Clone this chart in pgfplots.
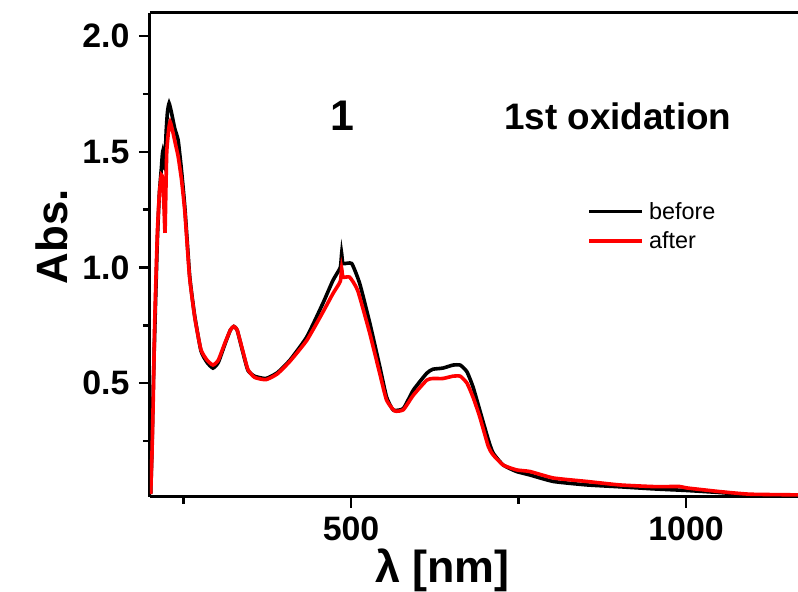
\documentclass[border=0pt]{standalone}
\usepackage{fontspec}
\setmainfont{Liberation Sans}
\usepackage{pgfplots}
\pgfplotsset{compat=1.18}
\usepackage{pgfplotstable}

\pgfplotstableread{
x y
201 0.02
203 0.22
205 0.50
208 0.82
211 1.12
214 1.32
217 1.43
219 1.50
222 1.43
224 1.58
226 1.67
228.5 1.71
232 1.67
237 1.60
242 1.55
247 1.42
252 1.26
259 0.97
263 0.87
267 0.785
276 0.64
285 0.59
294 0.565
302 0.59
312 0.67
320 0.73
325 0.745
330 0.73
338 0.64
346 0.556
356 0.53
373 0.52
390 0.545
409 0.60
434 0.70
458 0.845
473 0.944
484 1.00
486 1.06
488 1.017
501 1.017
513 0.93
528 0.76
543 0.57
553 0.44
563 0.384
578 0.39
593 0.47
613 0.543
622 0.56
637 0.565
652 0.578
663 0.578
673 0.549
682 0.484
692 0.384
705 0.254
712 0.198
727 0.146
747 0.118
767 0.103
802 0.075
852 0.060
901 0.052
951 0.043
1001 0.036
1051 0.027
1095 0.017
1167 0.017
}\before

\pgfplotstableread{
x y
201 0.02
203 0.20
205 0.45
207 0.76
211 1.15
214 1.32
217 1.40
219 1.38
221 1.25
222.4 1.15
223.5 1.30
225 1.50
228 1.60
230 1.63
233 1.60
239 1.52
242 1.48
247 1.38
252 1.24
259 0.96
267 0.78
276 0.645
285 0.60
294 0.578
302 0.60
312 0.675
320 0.73
325 0.745
330 0.73
338 0.645
346 0.56
356 0.525
373 0.515
390 0.54
409 0.595
434 0.685
458 0.807
473 0.887
484 0.94
486 0.995
488 0.958
498 0.958
510 0.90
528 0.715
543 0.54
553 0.427
565 0.38
578 0.385
593 0.448
613 0.513
622 0.52
637 0.52
652 0.53
663 0.53
673 0.50
682 0.44
692 0.355
705 0.225
712 0.19
727 0.146
747 0.125
767 0.118
802 0.090
852 0.075
901 0.060
951 0.053
991 0.053
1001 0.047
1051 0.031
1095 0.020
1167 0.017
}\after

\begin{document}
\begin{tikzpicture}
\useasboundingbox (-150bp,-95.5bp) rectangle (648bp,496.5bp);
\begin{axis}[
  at={(0,0)}, anchor=south west,
  scale only axis, width=648bp, height=483.5bp,
  xmin=200, xmax=1167, ymin=0.01, ymax=2.1,
  axis x line*=box, axis y line*=left,
  axis line style={line width=3bp, black},
  xtick={500,1000}, xticklabels={500,1000},
  minor xtick={250,750},
  ytick={0.5,1,1.5,2}, yticklabels={0.5,1.0,1.5,2.0},
  minor ytick={0.25,0.75,1.25,1.75},
  tick align=outside, tick pos=left,
  major tick length=11bp, minor tick length=7bp,
  every tick/.style={black, line width=2.6bp},
  tick label style={font=\fontsize{34}{34}\selectfont\bfseries},
  xticklabel style={yshift=-6bp},
  yticklabel style={xshift=-6bp},
  xlabel={\fontsize{45}{45}\selectfont\bfseries λ [nm]},
  ylabel={\fontsize{44}{44}\selectfont\bfseries Abs.},
  every axis x label/.style={at={(axis description cs:0.451,-0.152)}, anchor=center},
  every axis y label/.style={at={(axis description cs:-0.151,0.537)}, anchor=center, rotate=90},
  legend style={at={(axis description cs:0.675,0.611)}, anchor=north west, draw=none, fill=none,
    font=\fontsize{23.5}{29}\selectfont, inner sep=0pt, row sep=9bp,
    nodes={inner xsep=5bp, inner ysep=1bp}},
  legend cell align=left,
  legend image code/.code={\draw[#1, line width=3.5bp] (0bp,0bp) -- (53bp,0bp);},
]
\addplot[black, line width=3.6bp, smooth, tension=0.3] table[x=x,y=y] {\before};
\addlegendentry{before}
\addplot[red, line width=3.6bp, smooth, tension=0.3] table[x=x,y=y] {\after};
\addlegendentry{after}
\node[font=\fontsize{43}{43}\selectfont\bfseries] at (axis cs:486.6,1.655) {1};
\node[font=\fontsize{37}{37}\selectfont\bfseries] at (axis cs:898,1.655) {1st oxidation};
\end{axis}
\end{tikzpicture}
\end{document}
